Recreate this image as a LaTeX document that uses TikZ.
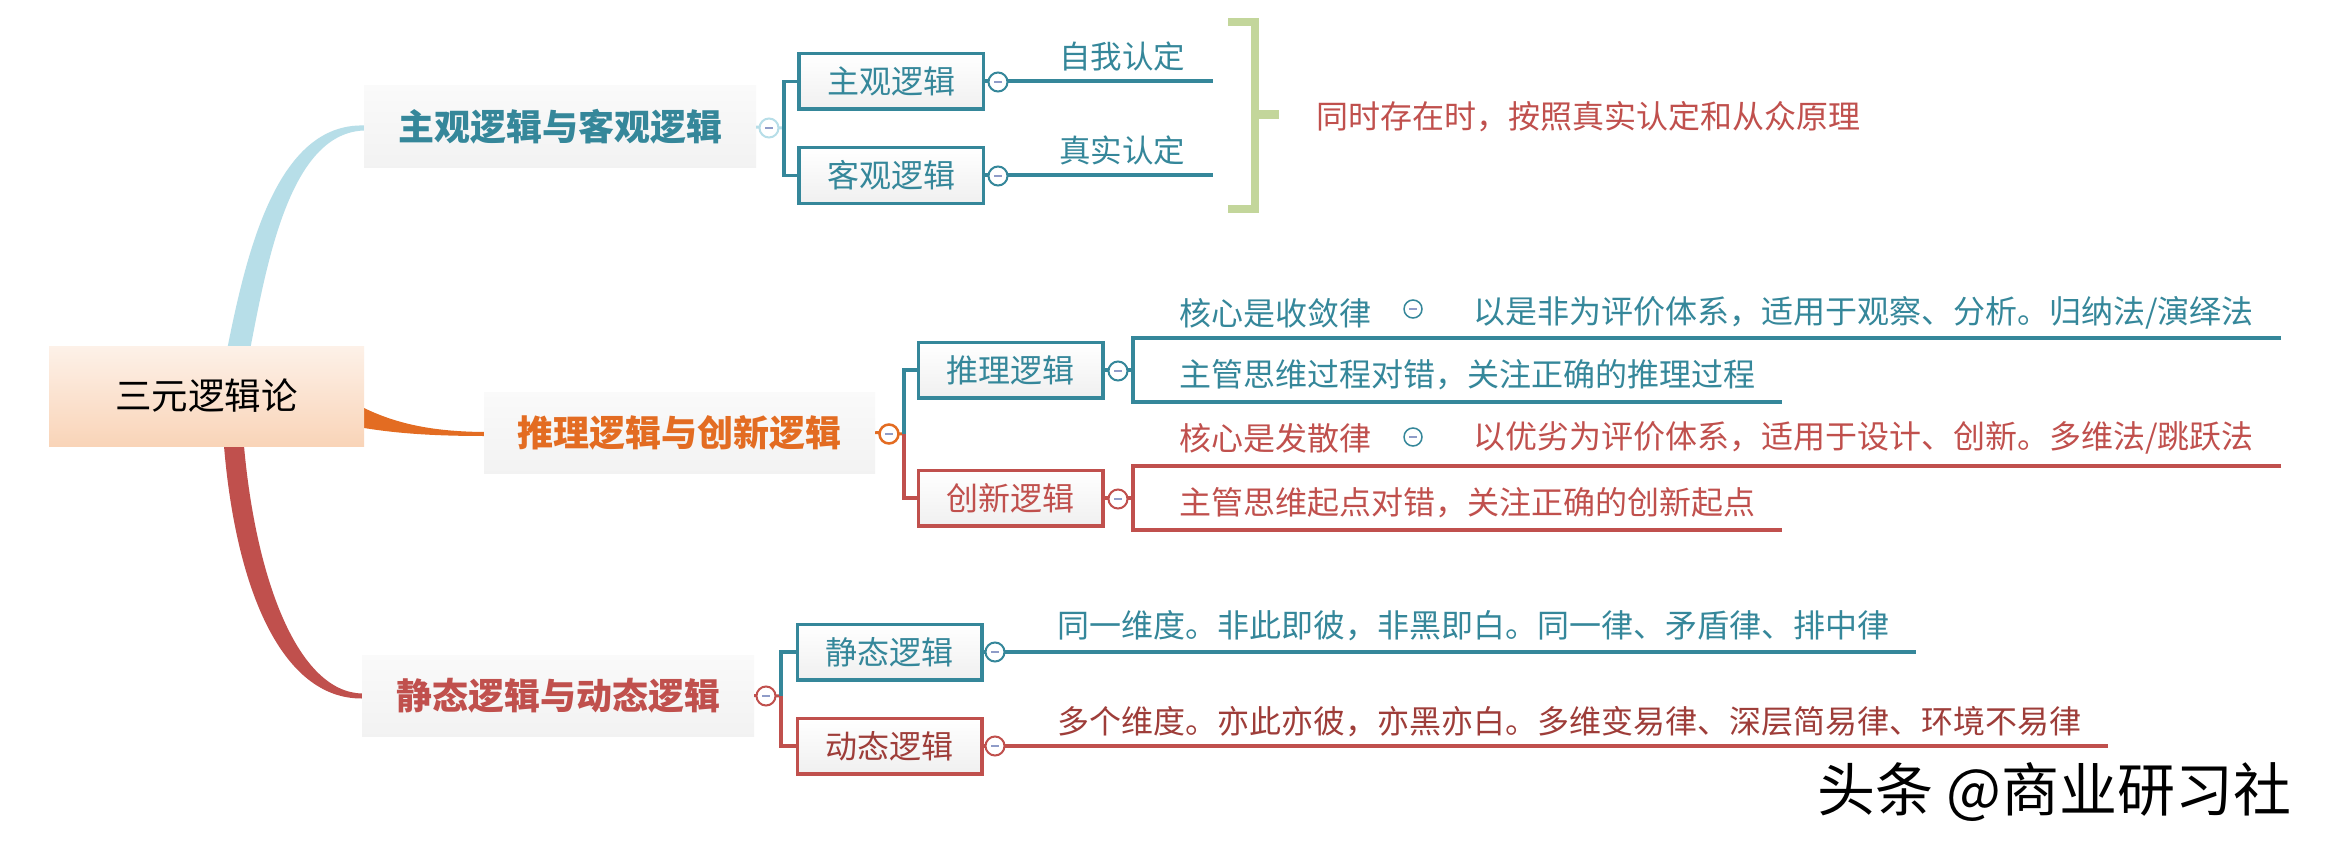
\documentclass[tikz,border=0pt]{standalone}
\usepackage{fontspec}
\setmainfont{Noto Sans CJK SC}
\usetikzlibrary{calc}
\definecolor{teal1}{HTML}{35879A}
\definecolor{red1}{HTML}{C0504D}
\definecolor{red2}{HTML}{9E3D39}
\definecolor{orange1}{HTML}{E36C22}
\definecolor{lblue}{HTML}{B7DEE8}
\definecolor{green1}{HTML}{C3D69B}
\definecolor{minusc}{HTML}{8F9CC8}
\definecolor{peachtop}{HTML}{FDF1E8}
\definecolor{peachbot}{HTML}{F9D4B8}
\tikzset{
 maintopic/.style={inner sep=0, minimum width=392pt, minimum height=82pt, top color=gray!4, bottom color=gray!10, font=\fontsize{36}{40}\selectfont\bfseries},
 subbox/.style={draw=#1, line width=3.5pt, inner sep=0, minimum width=184.5pt, minimum height=55.5pt, top color=white, bottom color=gray!12, font=\fontsize{32}{36}\selectfont},
 txt/.style={inner sep=0, font=\fontsize{32}{36}\selectfont},
 collapse/.style={circle, draw=#1, line width=2pt, fill=white, minimum size=19pt, inner sep=0},
 smallcollapse/.style={circle, draw=#1, line width=1.5pt, fill=white, minimum size=18pt, inner sep=0},
 link/.style={line width=3.5pt, line join=miter},
 lline/.style={line width=4pt, line join=miter},
}
\newcommand{\mns}{\textcolor{minusc}{\rule[-1pt]{8pt}{2pt}}}
\begin{document}
\begin{tikzpicture}[x=1pt,y=-1pt]
\useasboundingbox (0,0) rectangle (2330,848);
\fill[white] (0,0) rectangle (2330,848);

% ---- main branches (tapered) ----
\fill[lblue] (227,350) .. controls (246,255) and (276,123) .. (364,125.5) -- (364,130.5) .. controls (290,133) and (267,262) .. (250,350) -- cycle;
\fill[orange1] (364,408) .. controls (395,423) and (430,431.5) .. (484,432) -- (484,436) .. controls (430,436) and (395,433) .. (364,428) -- cycle;
\fill[red1] (224,446) .. controls (236,590) and (282,699) .. (362,698.5) -- (362,693.5) .. controls (298,692) and (256,580) .. (244,446) -- cycle;

% ---- central and main topics ----
\node[inner sep=0, minimum width=315pt, minimum height=100pt, top color=peachtop, bottom color=peachbot, font=\fontsize{36.5}{40}\selectfont] (root) at (206.5,396) {三元逻辑论};
\node[maintopic, text=teal1] (t1) at (560,127) {主观逻辑与客观逻辑};
\node[maintopic, text=orange1, minimum width=391pt, minimum height=81pt] (t2) at (679.5,432.5) {推理逻辑与创新逻辑};
\node[maintopic, text=red1, minimum height=81pt] (t3) at (558,695.5) {静态逻辑与动态逻辑};

% ---- sub boxes ----
\node[subbox=teal1, text=teal1] (s1) at (891,81.5) {主观逻辑};
\node[subbox=teal1, text=teal1] (s2) at (891,175.5) {客观逻辑};
\node[subbox=teal1, text=teal1] (s3) at (1010.5,370) {推理逻辑};
\node[subbox=red1, text=red1] (s4) at (1010.5,498) {创新逻辑};
\node[subbox=teal1, text=teal1] (s5) at (889.5,652) {静态逻辑};
\node[subbox=red1, text=red2] (s6) at (889.5,746) {动态逻辑};

% ---- coordinates for the junctions and line ends ----
\coordinate (v1) at (784,128);
\coordinate (v2) at (904,434);
\coordinate (v3) at (781,696);
\coordinate (e1) at (1213,82);
\coordinate (b3) at (1133,370);
\coordinate (b4) at (1133,498);
\coordinate (e5) at (1916,652);
\coordinate (e6) at (2108,746);
\coordinate (l3a) at (2281,338);
\coordinate (l3b) at (1782,402);
\coordinate (l4a) at (2281,466);
\coordinate (l4b) at (1782,530);

% ---- connectors main topic -> sub boxes ----
\draw[lblue, line width=3pt] (t1.east) -- (v1);
\draw[teal1, link] (s1.west) -- (s1.west -| v1) -- (s2.west -| v1) -- (s2.west);
\draw[orange1, line width=3pt] (t2.east) -- (v2);
\draw[teal1, link] (v2) -- (s3.west -| v2) -- (s3.west);
\draw[red1, link] (v2) -- (s4.west -| v2) -- (s4.west);
\draw[red1, line width=3pt] (t3.east) -- (v3);
\draw[teal1, link] (v3) -- (s5.west -| v3) -- (s5.west);
\draw[red1, link] (v3) -- (s6.west -| v3) -- (s6.west);

% ---- lines from sub boxes ----
\draw[teal1, lline] (s1.east) -- (s1.east -| e1);
\draw[teal1, lline] (s2.east) -- (s2.east -| e1);
\draw[teal1, lline] (s3.east) -- (b3);
\draw[teal1, lline] (l3a) -- (l3a -| b3) -- (l3b -| b3) -- (l3b);
\draw[red1, lline] (s4.east) -- (b4);
\draw[red1, lline] (l4a) -- (l4a -| b4) -- (l4b -| b4) -- (l4b);
\draw[teal1, lline] (s5.east) -- (s5.east -| e5);
\draw[red1, lline] (s6.east) -- (s6.east -| e6);

% ---- collapse markers ----
\node[collapse=lblue] (c1) at (769,128) {\mns};
\node[collapse=orange1, line width=2.5pt] (c2) at (889,434) {\mns};
\node[collapse=red1] (c3) at (766,696) {\mns};
\node[collapse=teal1] (cs1) at (998,82) {\mns};
\node[collapse=teal1] (cs2) at (998,176) {\mns};
\node[collapse=teal1] (cs3) at (1118,371) {\mns};
\node[collapse=red1] (cs4) at (1118,499) {\mns};
\node[collapse=teal1] (cs5) at (995,652) {\mns};
\node[collapse=red1] (cs6) at (995,746) {\mns};

% ---- green bracket ----
\draw[green1, line width=8pt, line join=miter] (1228,22.5) -- (1254.5,22.5) -- (1254.5,208.5) -- (1228,208.5);
\draw[green1, line width=9pt] (1254.5,115) -- (1279,115);

% ---- texts ----
\node[txt, text=teal1, font=\fontsize{31.5}{36}\selectfont] (a1) at (1122,56) {自我认定};
\node[txt, text=teal1, font=\fontsize{31.5}{36}\selectfont] (a2) at (1122,150) {真实认定};
\node[txt, text=red1, anchor=west] (note) at (1316,117) {同时存在时，按照真实认定和从众原理};

\node[txt, text=teal1, anchor=west] (k1) at (1179,313) {核心是收敛律};
\node[smallcollapse=teal1] (k1c) at (1413,309) {\mns};
\node[txt, text=teal1, anchor=west] (k1t) at (1473,313) {以是非为评价体系，适用于观察、分析。归纳法/演绎法};
\node[txt, text=teal1, anchor=west] (k2) at (1179,375) {主管思维过程对错，关注正确的推理过程};

\node[txt, text=red1, anchor=west] (k3) at (1179,438) {核心是发散律};
\node[smallcollapse=teal1] (k3c) at (1413,437) {\mns};
\node[txt, text=red1, anchor=west] (k3t) at (1473,438) {以优劣为评价体系，适用于设计、创新。多维法/跳跃法};
\node[txt, text=red1, anchor=west] (k4) at (1179,503) {主管思维起点对错，关注正确的创新起点};

\node[txt, text=teal1, anchor=west] (d1) at (1057,626) {同一维度。非此即彼，非黑即白。同一律、矛盾律、排中律};
\node[txt, text=red2, anchor=west] (d2) at (1057,722) {多个维度。亦此亦彼，亦黑亦白。多维变易律、深层简易律、环境不易律};

\node[inner sep=0, anchor=west, font=\fontsize{58}{62}\selectfont, text=black] (wm) at (1817,792) {头条 @商业研习社};
\end{tikzpicture}
\end{document}
